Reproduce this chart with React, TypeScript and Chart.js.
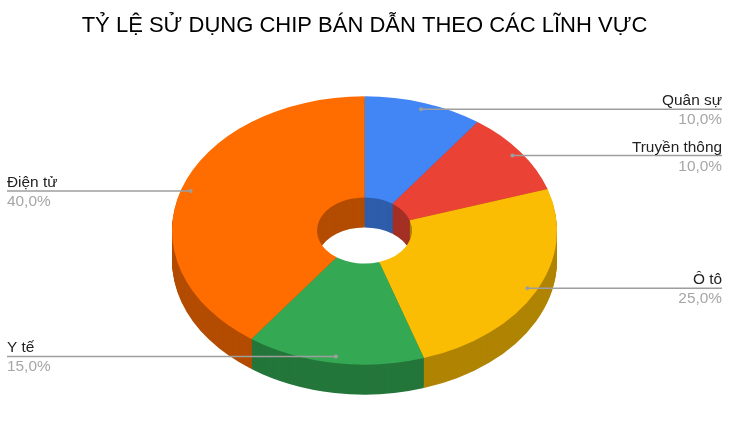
import React, { useEffect, useRef } from 'react';
import { Chart, registerables } from 'chart.js';

Chart.register(...registerables);

const TITLE = 'TỶ LỆ SỬ DỤNG CHIP BÁN DẪN THEO CÁC LĨNH VỰC';
const categories = ['Quân sự', 'Truyền thông', 'Ô tô', 'Y tế', 'Điện tử'];
const shares = [10, 10, 25, 15, 40];
const percentLabels = ['10,0%', '10,0%', '25,0%', '15,0%', '40,0%'];
const topColors = ['#4285F4', '#EA4335', '#FBBC04', '#34A853', '#FF6D01'];
const sideColors = ['#2E5DAB', '#A42F25', '#B08403', '#24763A', '#B34C01'];

const TILT = 0.697; // vertical squash of the pie
const DEPTH = 30; // height of the side wall in px
const FONT = '"Liberation Sans", Arial, sans-serif';

// squash the doughnut and paint the side walls underneath it
const tiltPlugin = {
  id: 'tilt',
  beforeDatasetsDraw(chart: any) {
    const ctx = chart.ctx;
    const arcs = chart.getDatasetMeta(0).data;
    const cy = arcs[0].y;
    ctx.save();
    ctx.translate(0, cy);
    ctx.scale(1, TILT);
    ctx.translate(0, -cy);
    for (let d = DEPTH; d > 0; d--) {
      ctx.save();
      ctx.translate(0, d / TILT);
      arcs.forEach((arc: any, i: number) => {
        const own = arc.options;
        arc.options = Object.create(own);
        arc.options.backgroundColor = sideColors[i];
        arc.draw(ctx);
        arc.options = own;
      });
      ctx.restore();
    }
  },
  afterDatasetsDraw(chart: any) {
    chart.ctx.restore();
  }
};

// leader lines and the two-line labels at the chart edges
const labelPlugin = {
  id: 'sideLabels',
  afterDraw(chart: any) {
    const ctx = chart.ctx;
    chart.getDatasetMeta(0).data.forEach((arc: any, i: number) => {
      const mid = (arc.startAngle + arc.endAngle) / 2;
      const r = arc.outerRadius * 0.95;
      const px = arc.x + Math.cos(mid) * r;
      const py = arc.y + Math.sin(mid) * r * TILT;
      const onRight = Math.cos(mid) > 0;
      const edge = onRight ? 722 : 7;

      ctx.save();
      ctx.strokeStyle = '#9e9e9e';
      ctx.fillStyle = '#9e9e9e';
      ctx.lineWidth = 1.5;
      ctx.beginPath();
      ctx.moveTo(px, py);
      ctx.lineTo(edge, py);
      ctx.stroke();
      ctx.beginPath();
      ctx.arc(px, py, 2, 0, Math.PI * 2);
      ctx.fill();

      ctx.font = `15.4px ${FONT}`;
      ctx.textAlign = onRight ? 'right' : 'left';
      ctx.textBaseline = 'alphabetic';
      ctx.fillStyle = '#222222';
      ctx.fillText(categories[i], edge, py - 4);
      ctx.fillStyle = '#a6a6a6';
      ctx.fillText(percentLabels[i], edge, py + 15);
      ctx.restore();
    });
  }
};

export default function App() {
  const canvasRef = useRef<HTMLCanvasElement>(null);

  useEffect(() => {
    if (!canvasRef.current) return;
    const chart = new Chart(canvasRef.current, {
      type: 'doughnut',
      data: {
        labels: categories,
        datasets: [{
          data: shares,
          backgroundColor: topColors,
          borderWidth: 0,
          clip: false
        } as any]
      },
      options: {
        responsive: false,
        animation: false,
        radius: 192.5,
        cutout: 47,
        layout: { padding: { left: 0, right: 7, top: 0, bottom: 0 } },
        plugins: {
          legend: { display: false },
          tooltip: { enabled: false },
          title: {
            display: true,
            text: TITLE,
            color: '#000000',
            font: { family: FONT, size: 22, weight: 'normal' },
            padding: { top: 13, bottom: 0.6 }
          }
        }
      } as any,
      plugins: [tiltPlugin, labelPlugin]
    });
    return () => chart.destroy();
  }, []);

  return (
    <div style={{ position: 'absolute', left: 0, top: 0, width: 736, height: 421, background: '#fff' }}>
      <canvas ref={canvasRef} width={736} height={421} style={{ display: 'block' }} />
    </div>
  );
}
